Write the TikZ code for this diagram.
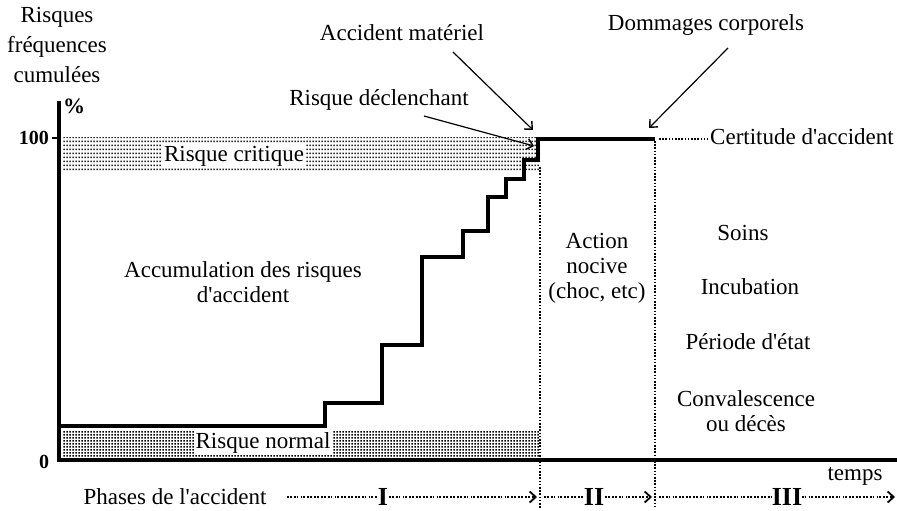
\documentclass[tikz,border=0pt]{standalone}
\usepackage{fontspec}
\newfontfamily\diagfont{Liberation Serif}
\usetikzlibrary{patterns,arrows.meta}

% dot screens of the two bands
\pgfdeclarepatternformonly{rowdots}{\pgfqpoint{0pt}{0pt}}{\pgfqpoint{3pt}{4pt}}{\pgfqpoint{3pt}{4pt}}%
  {\pgfpathrectangle{\pgfqpoint{0.6pt}{1pt}}{\pgfqpoint{1.8pt}{1.8pt}}\pgfusepath{fill}}
\pgfdeclarepatternformonly{densedots}{\pgfqpoint{0pt}{0pt}}{\pgfqpoint{3pt}{3pt}}{\pgfqpoint{3pt}{3pt}}%
  {\pgfpathrectangle{\pgfqpoint{0.4pt}{0.4pt}}{\pgfqpoint{2pt}{2pt}}\pgfusepath{fill}}

\begin{document}
\begin{tikzpicture}[x=1pt, y=-1pt,
  every node/.style={font=\diagfont\fontsize{23}{25}\selectfont, inner sep=1pt},
  txt/.style={align=center},
  axis/.style={line width=3.6pt},
  stair/.style={line width=3.6pt, line join=miter},
  guide/.style={line width=1.6pt, dash pattern=on 1.6pt off 1.6pt},
  phase/.style={line width=2.2pt, dash pattern=on 1.8pt off 1pt on 1.8pt off 2.2pt,
    -{Straight Barb[length=6pt, width=11pt, line width=1.8pt]}},
  pointer/.style={line width=1.2pt, -{Straight Barb[length=6pt, width=11pt, line width=1.4pt]}},
  tag/.style={fill=white, inner sep=2pt},
  roman/.style={font=\diagfont\fontsize{26}{26}\selectfont\bfseries, fill=white, inner sep=0pt},
  small/.style={font=\diagfont\fontsize{20}{20}\selectfont\bfseries}]
  \useasboundingbox (0,0) rectangle (897,511);

  % shaded bands
  \fill[pattern=rowdots, pattern color=black!85] (62,137) rectangle (540,170);
  \fill[pattern=densedots, pattern color=black] (62,430) rectangle (540,458);

  % guides
  \draw[guide] (540,167) -- (540,508);
  \draw[guide] (655,141) -- (655,508);
  \draw[guide] (659,139) -- (708,139);

  % axes
  \draw[axis] (59,101) -- (59,460) -- (897,460);
  \draw[line width=1.6pt] (52,138) -- (59,138);
  \node[small] (hundred) at (34,138) {100};
  \node[small] (zero) at (44,462) {0};
  \node[small, font=\diagfont\fontsize{22}{22}\selectfont\bfseries] (pct) at (74,106) {\%};

  % cumulated risk
  \draw[stair] (59,426) -| (325,403) -| (382,345) -| (422,257) -| (463,231)
    -| (488,197) -| (506,179) -| (524,160) -| (538,139) -- (655,139);

  \node[tag] (critique) at (234,156) {Risque critique};
  \node[tag] (normal) at (263,443) {Risque normal};

  % labels
  \node[txt, font=\diagfont\fontsize{23}{30}\selectfont] (ordonnee) at (57,45) {Risques\\fréquences\\cumulées};
  \node (materiel) at (402,33) {Accident matériel};
  \node (corporel) at (706,25) {Dommages corporels};
  \node (declenche) at (379,100) {Risque déclenchant};
  \node (certitude) at (802,137) {Certitude d'accident};
  \node[txt] (nocive) at (597,268) {Action\\nocive\\(choc, etc)};
  \node[txt] (accum) at (243,282) {Accumulation des risques\\d'accident};
  \node (soins) at (743,233) {Soins};
  \node (incub) at (750,287) {Incubation};
  \node (etat) at (748,342) {Période d'état};
  \node[txt] (conval) at (746,411) {Convalescence\\ou décès};
  \node (temps) at (855,476) {temps};

  % pointers
  \coordinate (matfrom) at (453,52);
  \coordinate (matto) at (533,130);
  \coordinate (domfrom) at (728,48);
  \coordinate (domto) at (649,128);
  \coordinate (decfrom) at (424,116);
  \coordinate (decto) at (534,146);
  \draw[pointer] (matfrom) -- (matto);
  \draw[pointer] (domfrom) -- (domto);
  \draw[pointer] (decfrom) -- (decto);

  % phases
  \node (phases) at (175,497) {Phases de l'accident};
  \coordinate (ph0) at (287,497);
  \coordinate (ph1) at (537,497);
  \coordinate (ph2) at (544,497);
  \coordinate (ph3) at (652,497);
  \coordinate (ph4) at (659,497);
  \coordinate (ph5) at (895,497);
  \draw[phase] (ph0) -- (ph1);
  \draw[phase] (ph2) -- (ph3);
  \draw[phase] (ph4) -- (ph5);
  \node[roman] (phaseI) at (383,497) {I};
  \node[roman] (phaseII) at (594,497) {II};
  \node[roman] (phaseIII) at (787,497) {III};
\end{tikzpicture}
\end{document}
